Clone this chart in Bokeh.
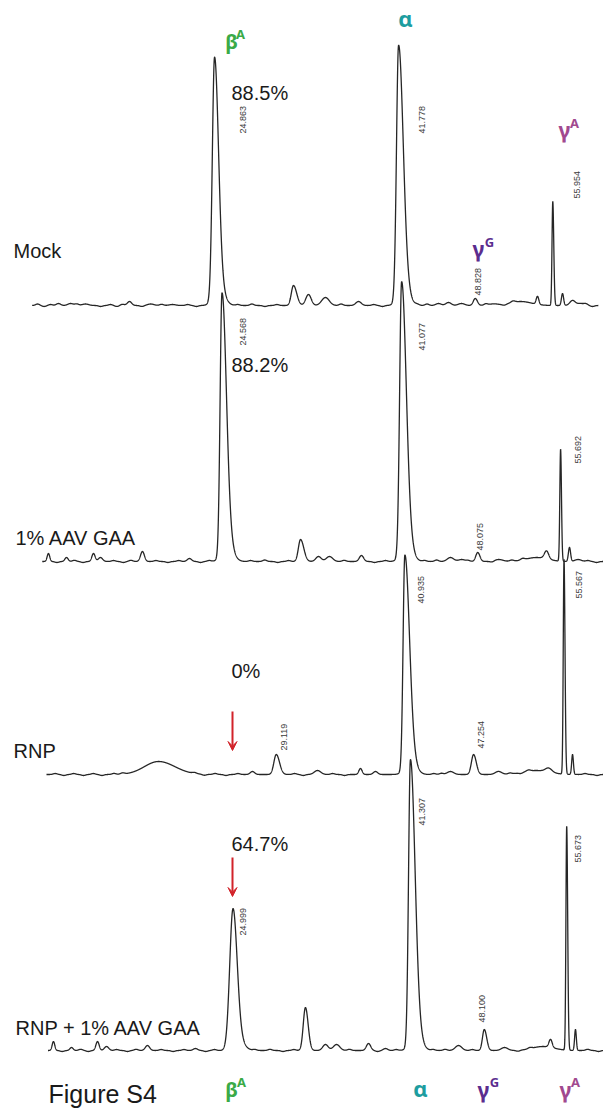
import numpy as np
from bokeh.plotting import figure
from bokeh.models import Range1d, ColumnDataSource, Arrow, VeeHead
from bokeh.transform import dodge
from bokeh.embed import file_html
from bokeh.resources import INLINE
from bokeh.core.properties import value

# ---------------- data ----------------
samples = ["Mock", "1% AAV GAA", "RNP", "RNP + 1% AAV GAA"]
beta_percent = ["88.5%", "88.2%", "0%", "64.7%"]

# main + minor peaks: retention time (min), height (a.u.), sigma left / right (min)
mock_rt = [10.52, 11.63, 13.0, 17.05, 19.0, 21.0, 24.863, 25.3, 32.12, 33.5, 35.06, 38.1,
           41.778, 42.3, 45.45, 46.37, 47.56, 48.828, 50.5, 53.0, 54.55, 55.954, 56.85, 57.77, 58.5]
mock_h = [2, 2, 1.5, 4, 1.5, 1, 238, 15, 20, 11, 8, 4,
          252, 14, 2, 3, 2, 7, 1.5, 4, 8, 104, 12, 5, 2]
mock_sl = [0.2, 0.25, 0.3, 0.2, 0.3, 0.3, 0.2, 0.5, 0.2, 0.25, 0.35, 0.25,
           0.19, 0.5, 0.25, 0.25, 0.3, 0.18, 0.4, 1.0, 0.12, 0.07, 0.1, 0.25, 0.3]
mock_sr = [0.2, 0.25, 0.3, 0.2, 0.3, 0.3, 0.36, 0.5, 0.3, 0.25, 0.35, 0.25,
           0.42, 0.5, 0.25, 0.25, 0.3, 0.2, 0.4, 1.0, 0.12, 0.09, 0.1, 0.25, 0.3]
# baseline ripples: time (min), amplitude (a.u.)
mock_ripple_rt = [8.6, 9.2, 9.8, 12.2, 14.4, 15.3, 15.9, 16.4, 18.2, 20.0, 22.4, 23.2,
                  27.0, 28.3, 29.5, 30.6, 36.5, 39.5, 40.3, 43.5, 44.4, 49.8, 51.5, 52.3,
                  59.0, 59.6]
mock_ripple_h = [1.5, -1, 1, 1.5, -1, 1, -1, 1.2, -1, 1.2, 1, -1,
                 1, 1.5, -1, 1, 1.5, 1, -1, 1, 1.5, 1.5, -1, 1.5, 1.5, -1]

aav_rt = [8.62, 10.28, 12.76, 13.40, 17.26, 21.58, 24.568, 25.1, 31.79, 33.44, 34.45, 37.39,
          41.077, 41.6, 45.57, 46.6, 48.075, 50.0, 53.5, 54.4, 55.692, 56.51, 57.3]
aav_h = [8, 4, 8, 4, 10, 3, 260, 15, 22, 5, 5, 6,
         271, 15, 4, 2, 9, 2, 4, 8, 112, 14, 2]
aav_sl = [0.12, 0.15, 0.15, 0.2, 0.18, 0.2, 0.17, 0.5, 0.2, 0.25, 0.3, 0.2,
          0.18, 0.5, 0.3, 0.3, 0.18, 0.4, 1.0, 0.2, 0.07, 0.1, 0.3]
aav_sr = [0.12, 0.15, 0.15, 0.2, 0.18, 0.2, 0.4, 0.5, 0.3, 0.25, 0.3, 0.2,
          0.42, 0.5, 0.3, 0.3, 0.2, 0.4, 1.0, 0.2, 0.08, 0.1, 0.3]
aav_ripple_rt = [9.4, 11.0, 11.8, 14.6, 15.5, 16.2, 18.5, 19.6, 20.6, 22.6, 23.4, 27.2,
                 28.5, 29.7, 30.7, 35.8, 38.6, 39.6, 43.2, 44.3, 47.2, 49.4, 51.2, 52.2,
                 58.2, 59.0]
aav_ripple_h = [-1, 1.2, -1, 1, -1, 1.2, 1, -1, 1, -1, 1, 1,
                1.5, -1, 1, 1.2, -1, 1, 1, 1.5, 1, -1, 1.2, 1.5, 1, -1]

rnp_rt = [18.30, 26.93, 29.119, 32.91, 36.86, 38.24, 40.935, 41.5, 45.13, 47.254, 49.54,
          53.0, 54.15, 55.567, 56.35]
rnp_h = [13, 3, 20, 4, 6, 3, 213, 12, 3, 20, 3, 4, 4, 215, 20]
rnp_sl = [1.3, 0.2, 0.22, 0.3, 0.15, 0.2, 0.16, 0.5, 0.3, 0.2, 0.3, 1.2, 0.3, 0.07, 0.08]
rnp_sr = [1.5, 0.2, 0.3, 0.3, 0.15, 0.2, 0.42, 0.5, 0.3, 0.25, 0.3, 1.2, 0.3, 0.09, 0.08]
rnp_ripple_rt = [8.8, 9.6, 10.5, 11.4, 12.3, 13.1, 14.2, 15.0, 21.6, 22.5, 23.5, 24.5,
                 25.6, 30.8, 31.6, 34.3, 35.4, 43.6, 44.3, 50.6, 51.6, 52.3, 57.5, 58.6]
rnp_ripple_h = [1, -1, 1, -1, 1, -1, 1, 1.2, 1, -1, 1, -1,
                1, 1, -1, 1, -1, 1, 1.2, 1, -1, 1.2, 1, -1]

combo_rt = [8.5, 10.16, 12.55, 13.38, 17.14, 21.55, 24.999, 25.6, 31.66, 33.5, 34.52, 37.46,
            39.02, 41.307, 41.85, 45.73, 48.100, 49.96, 53.5, 54.19, 55.673, 56.48]
combo_h = [9, 3, 9, 4, 5, 2, 138, 8, 43, 6, 6, 7,
           2, 283, 14, 5, 21, 3, 4, 8, 224, 21]
combo_sl = [0.12, 0.15, 0.15, 0.2, 0.2, 0.2, 0.3, 0.5, 0.2, 0.25, 0.3, 0.2,
            0.2, 0.17, 0.5, 0.3, 0.17, 0.3, 1.0, 0.15, 0.07, 0.08]
combo_sr = [0.12, 0.15, 0.15, 0.2, 0.2, 0.2, 0.38, 0.5, 0.25, 0.25, 0.3, 0.2,
            0.2, 0.42, 0.5, 0.3, 0.22, 0.3, 1.0, 0.15, 0.09, 0.08]
combo_ripple_rt = [9.3, 11.0, 11.7, 14.3, 15.3, 16.1, 18.4, 19.5, 20.5, 22.5, 23.3, 27.0,
                   28.4, 29.6, 30.6, 35.7, 38.3, 40.0, 43.4, 44.5, 47.0, 51.2, 52.3, 57.6,
                   58.6, 59.5]
combo_ripple_h = [-1, 1.2, -1, 1, -1, 1.2, 1, -1, 1, -1, 1, 1,
                  1.2, -1, 1, 1.2, -1, 1, 1, 1.2, 1, -1, 1.2, 1.2, -1, 1]

# labelled retention times per trace
mock_labels = ["24.863", "41.778", "48.828", "55.954"]
aav_labels = ["24.568", "41.077", "48.075", "55.692"]
rnp_labels = ["29.119", "40.935", "47.254", "55.567"]
combo_labels = ["24.999", "41.307", "48.100", "55.673"]

run_start = [8.1, 8.05, 8.0, 8.0]
run_end = [60.15, 60.0, 60.0, 60.0]

# ---------------- layout (pixel placement) ----------------
W, H = 603, 1109
PX_PER_MIN, X0 = 10.88, -56.5


def sx(px):
    return (px - X0) / PX_PER_MIN


def sy(py):
    return H - py


shifts = [0.0, 0.98, 1.42, 1.56]          # horizontal alignment of each run (min)
baselines_px = [305, 561, 774, 1050]      # baseline of each run (pixel row)
name_pos = [(13, 250), (15, 537), (13, 750), (15, 1027)]
pct_pos = [(231, 92), (231, 364), (231, 670), (231, 843)]
rt_label_pos = [
    [(242, 133), (421, 133), (477, 295), (576, 198)],
    [(242, 345), (421, 350), (479, 550), (577, 463)],
    [(283, 750), (420, 603), (480, 748), (578, 598)],
    [(242, 935), (421, 825), (481, 1022), (577, 862)],
]
RIPPLE_SIGMA = 0.18

p = figure(width=W, height=H, x_range=Range1d(sx(0), sx(W)), y_range=Range1d(0, H),
           output_backend="svg", toolbar_location=None, min_border=0,
           x_axis_location=None, y_axis_location=None)
p.grid.visible = False
p.outline_line_color = None
p.background_fill_color = "white"

peaks = [(mock_rt, mock_h, mock_sl, mock_sr), (aav_rt, aav_h, aav_sl, aav_sr),
         (rnp_rt, rnp_h, rnp_sl, rnp_sr), (combo_rt, combo_h, combo_sl, combo_sr)]
ripples = [(mock_ripple_rt, mock_ripple_h), (aav_ripple_rt, aav_ripple_h),
           (rnp_ripple_rt, rnp_ripple_h), (combo_ripple_rt, combo_ripple_h)]
rt_labels = [mock_labels, aav_labels, rnp_labels, combo_labels]

for i, (rt, hh, sl, sr) in enumerate(peaks):
    t = np.arange(run_start[i], run_end[i], 0.01)
    sig = np.zeros_like(t)
    for r, h, a, b in zip(rt, hh, sl, sr):
        s = np.where(t < r, a, b)
        sig += h * np.exp(-0.5 * ((t - r) / s) ** 2)
    for r, h in zip(*ripples[i]):
        sig += h * np.exp(-0.5 * ((t - r) / RIPPLE_SIGMA) ** 2)
    src = ColumnDataSource(dict(t=t, y=sy(baselines_px[i]) + sig))
    p.line(x=dodge("t", shifts[i]), y="y", source=src, line_color="#262626", line_width=1.3)

    nx, ny = name_pos[i]
    p.text(x=[sx(nx)], y=[sy(ny)], text=[samples[i]], text_font=value("Liberation Sans"),
           text_font_size="20px", text_color="#1a1a1a", text_align="left", text_baseline="middle")
    qx, qy = pct_pos[i]
    p.text(x=[sx(qx)], y=[sy(qy)], text=[beta_percent[i]], text_font=value("Liberation Sans"),
           text_font_size="20px", text_color="#1a1a1a", text_align="left", text_baseline="middle")
    lx = [sx(a) for a, b in rt_label_pos[i]]
    ly = [sy(b) for a, b in rt_label_pos[i]]
    p.text(x=lx, y=ly, text=rt_labels[i], angle=np.pi / 2, text_font=value("Liberation Sans"),
           text_font_size="9px", text_color="#3a3a3a", text_align="left", text_baseline="middle")

for (ax, ay0, ay1) in [(232, 711, 750), (232, 857, 896)]:
    p.add_layout(Arrow(x_start=sx(ax), y_start=sy(ay0), x_end=sx(ax), y_end=sy(ay1),
                       line_color="#d2232a", line_width=2,
                       end=VeeHead(size=9, fill_color="#d2232a", line_color="#d2232a")))

GREEN, TEAL, PURPLE, MAGENTA = "#3aaa47", "#1d9d9f", "#5b2d8e", "#a1498f"
chain_main = [("β", 231, 41, GREEN, "20px"), ("α", 405, 17, TEAL, "22px"),
              ("γ", 564, 129, MAGENTA, "21px"), ("γ", 478, 248, PURPLE, "21px"),
              ("β", 231, 1089, GREEN, "20px"), ("α", 420, 1087, TEAL, "22px"),
              ("γ", 483, 1089, PURPLE, "21px"), ("γ", 565, 1089, MAGENTA, "21px")]
chain_sup = [("A", 240, 33, GREEN), ("A", 574, 122, MAGENTA), ("G", 489, 241, PURPLE),
             ("A", 241, 1081, GREEN), ("G", 494, 1081, PURPLE), ("A", 575, 1081, MAGENTA)]
for txt, x, y, c, fs in chain_main:
    p.text(x=[sx(x)], y=[sy(y)], text=[txt], text_font=value("Noto Sans"), text_font_style="bold",
           text_font_size=fs, text_color=c, text_align="center", text_baseline="middle")
for txt, x, y, c in chain_sup:
    p.text(x=[sx(x)], y=[sy(y)], text=[txt], text_font=value("Noto Sans"), text_font_style="bold",
           text_font_size="13px", text_color=c, text_align="center", text_baseline="middle")

p.text(x=[sx(48)], y=[sy(1093)], text=["Figure S4"], text_font=value("Liberation Sans"),
       text_font_size="25px", text_color="#1a1a1a", text_align="left", text_baseline="middle")

open("out.html", "w").write(file_html(p, INLINE))
